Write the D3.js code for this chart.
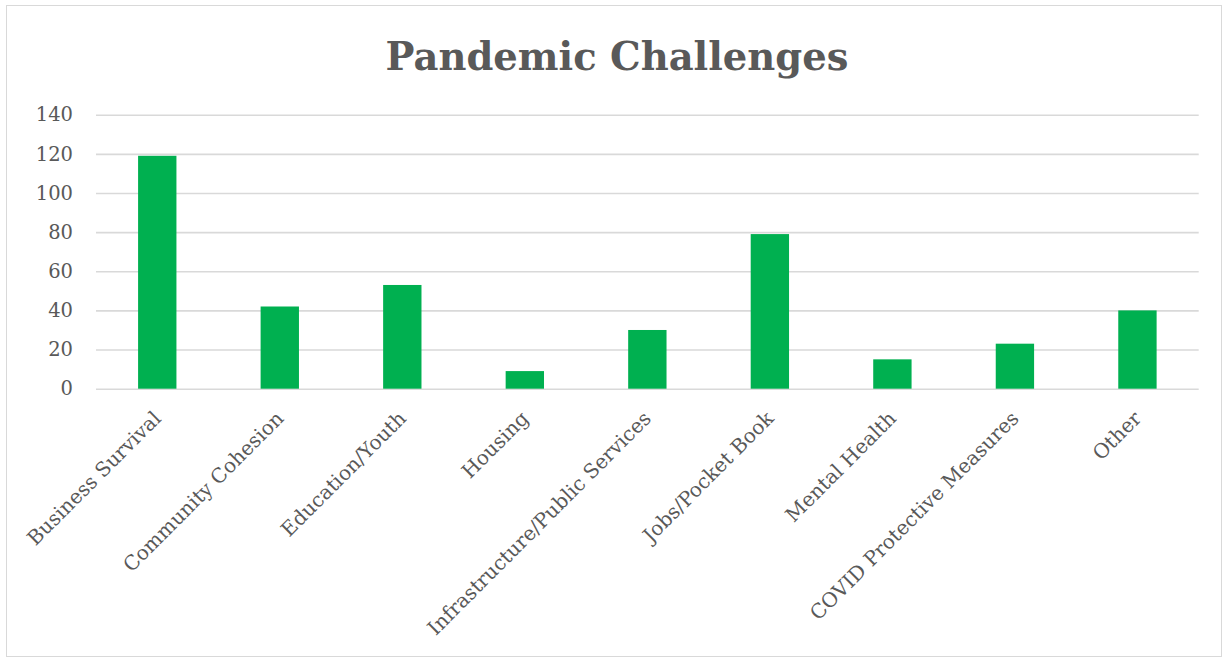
<!DOCTYPE html>
<html><head><meta charset="utf-8">
<script src="https://cdn.jsdelivr.net/npm/d3@7"></script>
<style>body{margin:0;background:#fff;} svg{display:block;}</style>
</head><body>
<svg id="c" width="1223" height="660"></svg>
<script>
const categories = ["Business Survival","Community Cohesion","Education/Youth","Housing","Infrastructure/Public Services","Jobs/Pocket Book","Mental Health","COVID Protective Measures","Other"];
const values = [119,42,53,9,30,79,15,23,40];
const yTicks = [0,20,40,60,80,100,120,140];
const title = "Pandemic Challenges";

const svg = d3.select("#c");
const W = 1223, H = 660;
const m = {left:96, right:24.3, top:114.7, bottom:660-388.7};
const font = "'DejaVu Serif','Liberation Serif',serif";
svg.append("rect").attr("x",6.5).attr("y",5.5).attr("width",1215).attr("height",651)
  .attr("fill","#fff").attr("stroke","#d9d9d9").attr("stroke-width",1);

const x = d3.scaleBand().domain(categories).range([m.left, W-m.right]).padding(0);
const y = d3.scaleLinear().domain([0,140]).range([H-m.bottom, m.top]);

const g = svg.append("g");
const yAxis = d3.axisLeft(y).tickValues(yTicks).tickSize(-(W-m.left-m.right)).tickPadding(23);
const ya = g.append("g").attr("transform",`translate(${m.left},0)`).call(yAxis);
ya.select(".domain").remove();
ya.selectAll(".tick line").attr("stroke","#d9d9d9").attr("stroke-width",1.6);
ya.selectAll(".tick text").attr("fill","#595959").style("font-family",font).style("font-size","19.5px");

const bw = x.bandwidth()*0.313;
g.selectAll("rect.bar").data(values).enter().append("rect").attr("class","bar")
  .attr("x",(d,i)=>x(categories[i])+x.bandwidth()/2-bw/2)
  .attr("width",bw)
  .attr("y",d=>y(d)).attr("height",d=>y(0)-y(d))
  .attr("fill","#00b050");

const xa = g.append("g").attr("transform",`translate(0,${y(0)})`).call(d3.axisBottom(x).tickSize(0).tickPadding(0));
xa.select(".domain").remove();
xa.selectAll(".tick text")
  .attr("fill","#595959").style("font-family",font).style("font-size","20px")
  .attr("text-anchor","end").attr("dy","0")
  .attr("transform","translate(5,31) rotate(-45)");

const t = svg.append("text").attr("x",617).attr("y",70).attr("text-anchor","middle")
  .attr("fill","#595959").style("font-family",font).style("font-weight","bold").style("font-size","40px")
  .text(title);
const len = t.node().getComputedTextLength();
t.style("font-size", (40*463/len).toFixed(1)+"px");
</script>
</body></html>
